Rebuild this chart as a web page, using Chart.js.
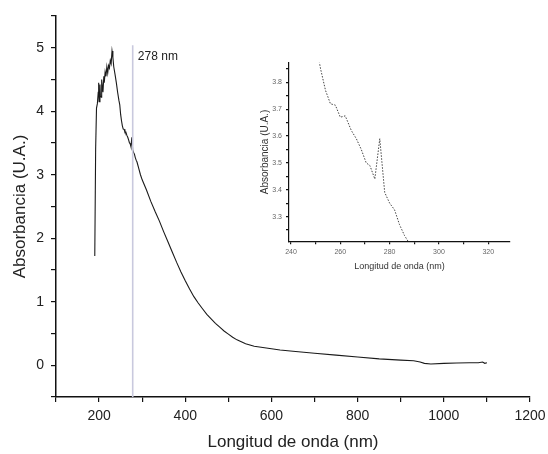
<!DOCTYPE html>
<html>
<head>
<meta charset="utf-8">
<script src="https://cdn.jsdelivr.net/npm/chart.js@4/dist/chart.umd.min.js"></script>
<style>
html, body { margin: 0; padding: 0; background: #fff; }
#wrap { position: relative; width: 548px; height: 454px; }
#mainChart { position: absolute; left: 0; top: 0; }
#insetChart { position: absolute; left: 240px; top: 40px; }
</style>
</head>
<body>
<div id="wrap">
<canvas id="mainChart" width="548" height="454"></canvas>
<canvas id="insetChart" width="290" height="240"></canvas>
</div>
<script>
// spectrum
const wavelength = [190, 192, 194, 196, 198, 199, 200, 202, 203, 205, 206, 208, 209, 211, 212, 214, 216, 218, 220,
    222, 224, 226, 228, 230, 232, 234, 237, 240, 243, 246, 248, 250, 252, 254, 256, 258, 260, 262, 264.5, 266.5,
    268.5, 270.5, 272, 274, 276, 278, 280, 282, 284, 286, 288, 292, 296, 300, 310, 320, 330, 340, 350, 360, 370,
    380, 390, 400, 410, 420, 430, 440, 450, 460, 470, 480, 490, 500, 510, 520, 530, 540, 550, 560, 580, 600, 620,
    650, 700, 750, 800, 850, 900, 930, 945, 955, 970, 1000, 1030, 1060, 1080, 1090, 1095, 1100];
const absorbance = [1.72, 3.4, 4.05, 4.12, 4.3, 4.45, 4.15, 4.42, 4.25, 4.22, 4.5, 4.35, 4.3, 4.55, 4.45, 4.62, 4.55,
    4.7, 4.6, 4.72, 4.68, 4.8, 4.75, 4.95, 4.85, 4.7, 4.58, 4.45, 4.3, 4.17, 4.1, 3.95, 3.85, 3.77, 3.72, 3.715,
    3.67, 3.675, 3.62, 3.59, 3.55, 3.5, 3.49, 3.44, 3.59, 3.39, 3.35, 3.325, 3.27, 3.23, 3.2, 3.1, 3.0, 2.92, 2.76,
    2.58, 2.42, 2.27, 2.1, 1.94, 1.78, 1.62, 1.47, 1.33, 1.2, 1.08, 0.98, 0.89, 0.8, 0.73, 0.66, 0.6, 0.54, 0.49,
    0.44, 0.4, 0.37, 0.34, 0.32, 0.3, 0.28, 0.26, 0.24, 0.22, 0.19, 0.16, 0.13, 0.1, 0.08, 0.07, 0.05, 0.03, 0.02,
    0.03, 0.035, 0.04, 0.04, 0.05, 0.03, 0.04];

const markerNm = 278;
const markerRange = [-0.5, 5.04];
const markerLabel = "278 nm";

const mainXTicks = [100, 200, 300, 400, 500, 600, 700, 800, 900, 1000, 1100, 1200];
const mainYTicks = [-0.5, 0, 0.5, 1, 1.5, 2, 2.5, 3, 3.5, 4, 4.5, 5, 5.5];
const insetXTicks = [240, 250, 260, 270, 280, 290, 300, 310, 320];
const insetYTicks = [3.25, 3.3, 3.35, 3.4, 3.45, 3.5, 3.55, 3.6, 3.65, 3.7, 3.75, 3.8, 3.85];

const FONT = 'Arial, "Liberation Sans", sans-serif';
const points = wavelength.map((x, i) => ({ x: x, y: absorbance[i] }));

// draws the "278 nm" text next to the marker line
const markerText = {
    id: "markerText",
    afterDatasetsDraw(chart) {
        const ctx = chart.ctx;
        ctx.save();
        ctx.font = "12px " + FONT;
        ctx.fillStyle = "#222";
        ctx.textAlign = "left";
        ctx.textBaseline = "middle";
        ctx.fillText(markerLabel, chart.scales.x.getPixelForValue(290), chart.scales.y.getPixelForValue(4.86));
        ctx.restore();
    }
};

function axis_opts(ticks, min, max, labelFn, fontSize, tickLen, color, fixed) {
    return {
        type: "linear",
        min: min,
        max: max,
        afterBuildTicks: (scale) => { scale.ticks = ticks.map(v => ({ value: v })); },
        afterFit: fixed,
        border: { display: true, color: "#111", width: 1.5 },
        grid: { display: true, drawOnChartArea: false, drawTicks: true, tickLength: tickLen, color: "#111", lineWidth: 1.2 },
        ticks: {
            autoSkip: false,
            maxRotation: 0,
            color: color,
            font: { family: FONT, size: fontSize },
            callback: labelFn
        }
    };
}

// fixed box sizes so the plot area lands where the reference has it
const mainX = axis_opts(mainXTicks, 100, 1200, v => (v % 200 === 0 ? String(v) : ""), 14, 5, "#222",
    s => { s.height = 57; s.paddingLeft = 0; s.paddingRight = 18; });
mainX.ticks.padding = 6;
mainX.title = { display: true, text: "Longitud de onda (nm)", color: "#222", font: { family: FONT, size: 17 }, padding: { top: 0, bottom: 1 } };

const mainY = axis_opts(mainYTicks, -0.5, 5.5, v => (Number.isInteger(v) ? String(v) : ""), 14, 5, "#222",
    s => { s.width = 56; s.paddingTop = 0; s.paddingBottom = 0; });
mainY.ticks.padding = 7;
mainY.title = { display: true, text: "Absorbancia (U.A.)", color: "#222", font: { family: FONT, size: 17 }, padding: { top: 10, bottom: 0 } };

new Chart("mainChart", {
    type: "line",
    data: {
        datasets: [
            {
                data: [{ x: markerNm, y: markerRange[0] }, { x: markerNm, y: markerRange[1] }],
                borderColor: "#c9c9de",
                borderWidth: 1.6,
                pointRadius: 0
            },
            {
                data: points,
                borderColor: "#1a1a1a",
                borderWidth: 1.1,
                pointRadius: 0,
                tension: 0
            }
        ]
    },
    options: {
        responsive: false,
        animation: false,
        devicePixelRatio: 1,
        layout: { padding: { top: 16, right: 18, left: 0, bottom: 0 } },
        plugins: { legend: { display: false }, tooltip: { enabled: false } },
        scales: { x: mainX, y: mainY }
    },
    plugins: [markerText]
});

// inset, zoom on 240-330 nm
const insetX = axis_opts(insetXTicks, 239.2, 328.8, v => (v % 20 === 0 ? String(v) : ""), 7, 3, "#666",
    s => { s.height = 38.7; s.paddingLeft = 0; s.paddingRight = 20; });
insetX.ticks.padding = 4;
insetX.border.width = 1.2;
insetX.title = { display: true, text: "Longitud de onda (nm)", color: "#333", font: { family: FONT, size: 9 }, padding: { top: 0, bottom: 8 } };

const insetY = axis_opts(insetYTicks, 3.208, 3.873, v => (Math.round(v * 100) % 10 === 0 ? v.toFixed(1) : ""), 7, 3, "#666",
    s => { s.width = 49; s.paddingTop = 0; s.paddingBottom = 0; });
insetY.ticks.padding = 4;
insetY.border.width = 1.2;
insetY.title = { display: true, text: "Absorbancia (U.A.)", color: "#333", font: { family: FONT, size: 10 }, padding: { top: 19, bottom: 0 } };

new Chart("insetChart", {
    type: "line",
    data: {
        datasets: [{
            data: points,
            borderColor: "#444",
            borderWidth: 1,
            borderDash: [1.5, 1.5],
            pointRadius: 0,
            tension: 0
        }]
    },
    options: {
        responsive: false,
        animation: false,
        devicePixelRatio: 1,
        layout: { padding: { top: 22.7, right: 20, left: 0, bottom: 0 } },
        plugins: { legend: { display: false }, tooltip: { enabled: false } },
        scales: { x: insetX, y: insetY }
    }
});
</script>
</body>
</html>
